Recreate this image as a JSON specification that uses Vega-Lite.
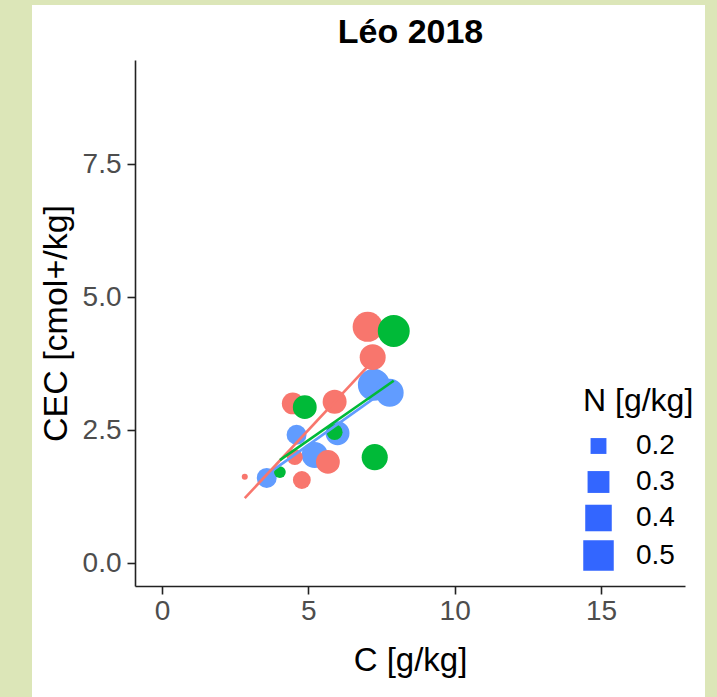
{
  "$schema": "https://vega.github.io/schema/vega-lite/v6.json",
  "width": 673,
  "height": 692,
  "autosize": {"type": "none"},
  "padding": {"left": 32, "top": 5, "right": 12, "bottom": 0},
  "background": "#dce6b8",
  "view": {"fill": "white", "stroke": null},
  "config": {
    "font": "Liberation Sans",
    "axis": {"grid": false}
  },
  "data": {
    "values": [
      {"grp": "b", "C": 3.58, "CEC": 1.60, "N": 0.265},
      {"grp": "b", "C": 4.60, "CEC": 2.41, "N": 0.265},
      {"grp": "b", "C": 5.22, "CEC": 2.03, "N": 0.39},
      {"grp": "b", "C": 6.00, "CEC": 2.44, "N": 0.34},
      {"grp": "b", "C": 7.24, "CEC": 3.35, "N": 0.54},
      {"grp": "b", "C": 7.78, "CEC": 3.20, "N": 0.435},
      {"grp": "r", "C": 2.83, "CEC": 1.62, "N": 0.105},
      {"grp": "r", "C": 4.47, "CEC": 3.00, "N": 0.30},
      {"grp": "r", "C": 4.54, "CEC": 1.99, "N": 0.20},
      {"grp": "r", "C": 4.78, "CEC": 1.56, "N": 0.23},
      {"grp": "r", "C": 5.67, "CEC": 1.90, "N": 0.34},
      {"grp": "r", "C": 5.90, "CEC": 3.03, "N": 0.343},
      {"grp": "r", "C": 7.03, "CEC": 4.44, "N": 0.49},
      {"grp": "r", "C": 7.20, "CEC": 3.87, "N": 0.387},
      {"grp": "g", "C": 4.03, "CEC": 1.71, "N": 0.15},
      {"grp": "g", "C": 4.88, "CEC": 2.93, "N": 0.34},
      {"grp": "g", "C": 5.90, "CEC": 2.46, "N": 0.20},
      {"grp": "g", "C": 7.27, "CEC": 1.99, "N": 0.39},
      {"grp": "g", "C": 7.92, "CEC": 4.36, "N": 0.54}
    ]
  },
  "encoding": {
    "y": {
      "field": "CEC",
      "type": "quantitative",
      "scale": {"domain": [-0.432, 9.455], "range": [581, 55], "nice": false, "zero": false},
      "axis": {
        "title": "CEC [cmol+/kg]",
        "values": [0, 2.5, 5, 7.5],
        "format": ".1f",
        "offset": -103,
        "domainColor": "#222222",
        "domainWidth": 1.6,
        "tickColor": "#222222",
        "tickWidth": 1.6,
        "tickSize": 8,
        "labelFontSize": 28,
        "labelColor": "#4d4d4d",
        "labelPadding": 6,
        "titleFontSize": 34,
        "titleFontWeight": "normal",
        "titleColor": "black",
        "titleBaseline": "middle",
        "titleAngle": -90,
        "titleX": -79
      }
    },
    "color": {
      "field": "grp",
      "type": "nominal",
      "scale": {"domain": ["b", "r", "g"], "range": ["#619CFF", "#F8766D", "#00BA38"]},
      "legend": null
    }
  },
  "layer": [
    {
      "mark": {"type": "circle", "opacity": 1},
      "encoding": {
        "x": {
          "field": "C",
          "type": "quantitative",
          "scale": {"domain": [-0.92, 17.87], "range": [103, 653], "nice": false, "zero": false},
          "axis": {
            "orient": "bottom",
            "title": "C [g/kg]",
            "values": [0, 5, 10, 15],
            "format": "d",
            "offset": -111,
            "domainColor": "#222222",
            "domainWidth": 1.6,
            "tickColor": "#222222",
            "tickWidth": 1.6,
            "tickSize": 8,
            "labelFontSize": 28,
            "labelColor": "#4d4d4d",
            "labelPadding": 3,
            "titleFontSize": 33,
            "titleFontWeight": "normal",
            "titleColor": "black",
            "titleBaseline": "middle",
            "titleY": 74
          }
        },
        "size": {
          "field": "N",
          "type": "quantitative",
          "scale": {"domain": [0.1, 0.55], "range": [25, 1044]},
          "legend": {
            "title": "N [g/kg]",
            "values": [0.2, 0.3, 0.4, 0.5],
            "format": ".1f",
            "orient": "none",
            "legendX": 551,
            "legendY": 381,
            "symbolType": "square",
            "symbolFillColor": "#3366FF",
            "symbolStrokeWidth": 0,
            "symbolOpacity": 1,
            "titleFontSize": 32,
            "titleFontWeight": "normal",
            "titleColor": "black",
            "titlePadding": 14,
            "labelFontSize": 28,
            "labelColor": "black",
            "labelOffset": 22,
            "rowPadding": 8
          }
        }
      }
    },
    {
      "transform": [
        {"regression": "CEC", "on": "C", "groupby": ["grp"]}
      ],
      "mark": {"type": "line", "strokeWidth": 2.6},
      "encoding": {
        "x": {
          "field": "C",
          "type": "quantitative",
          "axis": {
            "orient": "top",
            "title": "Léo 2018",
            "ticks": false,
            "labels": false,
            "domain": false,
            "titleFontSize": 34,
            "titleFontWeight": "bold",
            "titleColor": "black",
            "titleBaseline": "alphabetic",
            "titleAngle": 0,
            "titleX": 378,
            "titleY": 37,
            "titleAnchor": "middle",
            "titleAlign": "center"
          }
        }
      }
    }
  ]
}
